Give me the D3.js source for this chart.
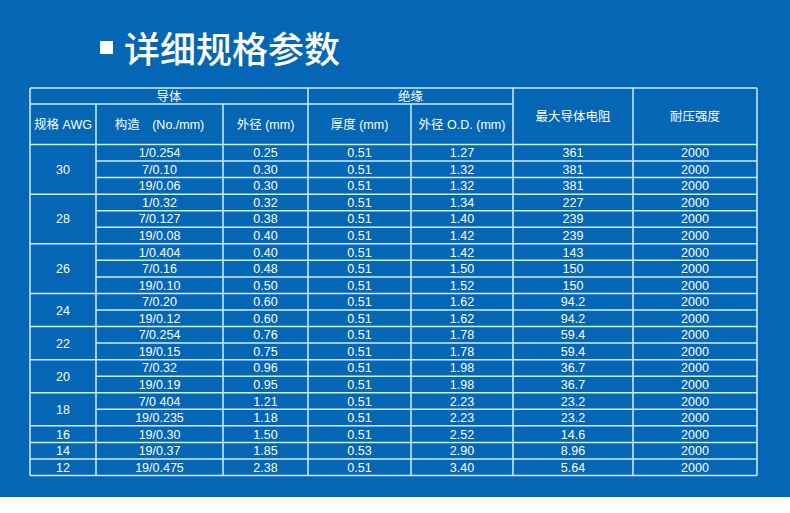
<!DOCTYPE html><html><head><meta charset="utf-8"><script src="https://cdn.jsdelivr.net/npm/d3@7"></script>
<style>body{margin:0;background:#fff}</style></head><body><svg id="c" width="790" height="513"></svg><script>
const awg=["30","28","26","24","22","20","18","16","14","12"];
const groupSize=[3,3,3,2,2,2,2,1,1,1];
const structure=["1/0.254","7/0.10","19/0.06","1/0.32","7/0.127","19/0.08","1/0.404","7/0.16","19/0.10","7/0.20","19/0.12","7/0.254","19/0.15","7/0.32","19/0.19","7/0 404","19/0.235","19/0.30","19/0.37","19/0.475"];
const condOD=["0.25","0.30","0.30","0.32","0.38","0.40","0.40","0.48","0.50","0.60","0.60","0.76","0.75","0.96","0.95","1.21","1.18","1.50","1.85","2.38"];
const thick=["0.51","0.51","0.51","0.51","0.51","0.51","0.51","0.51","0.51","0.51","0.51","0.51","0.51","0.51","0.51","0.51","0.51","0.51","0.53","0.51"];
const insOD=["1.27","1.32","1.32","1.34","1.40","1.42","1.42","1.50","1.52","1.62","1.62","1.78","1.78","1.98","1.98","2.23","2.23","2.52","2.90","3.40"];
const resist=["361","381","381","227","239","239","143","150","150","94.2","94.2","59.4","59.4","36.7","36.7","23.2","23.2","14.6","8.96","5.64"];
const voltage=Array(20).fill("2000");
const svg=d3.select("#c");
svg.append("rect").attr("width",790).attr("height",497).attr("fill","#0466b4");
svg.append("rect").attr("x",100).attr("y",41).attr("width",13).attr("height",13).attr("fill","#fff");
svg.append("text").attr("x",124).attr("y",63).attr("fill","#fff").attr("font-size",36).attr("font-weight",500).attr("font-family","Noto Sans CJK SC").text("详细规格参数");
const cols=[30,96,223,308,411,513,633,757];
const y0=88,y1=104,y2=144.5;
const y=d3.scaleLinear().domain([0,20]).range([y2,475.5]);
const line="#cfeeff",font="Liberation Sans, Arial, Noto Sans CJK SC";
const g=svg.append("g");
function L(x1,y1_,x2,y2_){g.append("line").attr("x1",x1).attr("y1",y1_).attr("x2",x2).attr("y2",y2_).attr("stroke",line).attr("stroke-width",1.5);}
function T(x,yy,s){svg.append("text").attr("x",x).attr("y",yy).attr("dy","0.36em").attr("text-anchor","middle").attr("fill","#fff").attr("font-size",12.5).attr("font-family",font).text(s);}
L(cols[0],y0,cols[7],y0);L(cols[0],y1,cols[5],y1);L(cols[0],y2,cols[7],y2);
cols.forEach((c,i)=>{let top=(i==1||i==2||i==4)?y1:y0;L(c,top,c,y(20));});
T((cols[0]+cols[3])/2,(y0+y1)/2,"导体");T((cols[3]+cols[5])/2,(y0+y1)/2,"绝缘");
const hdr=["规格  AWG","构造　(No./mm)","外径  (mm)","厚度  (mm)","外径  O.D. (mm)"];
hdr.forEach((h,i)=>T((cols[i]+cols[i+1])/2,(y1+y2)/2,h));
T((cols[5]+cols[6])/2,(y0+y2)/2,"最大导体电阻");T((cols[6]+cols[7])/2,(y0+y2)/2,"耐压强度");
let r=0;
awg.forEach((a,gi)=>{const n=groupSize[gi];T((cols[0]+cols[1])/2,(y(r)+y(r+n))/2,a);
 for(let k=0;k<n;k++){const ri=r+k;if(ri>0)L(k==0?cols[0]:cols[1],y(ri),cols[7],y(ri));}
 r+=n;});
L(cols[0],y(20),cols[7],y(20));
[structure,condOD,thick,insOD,resist,voltage].forEach((arr,ci)=>arr.forEach((v,i)=>T((cols[ci+1]+cols[ci+2])/2,(y(i)+y(i+1))/2,v)));
</script></body></html>
